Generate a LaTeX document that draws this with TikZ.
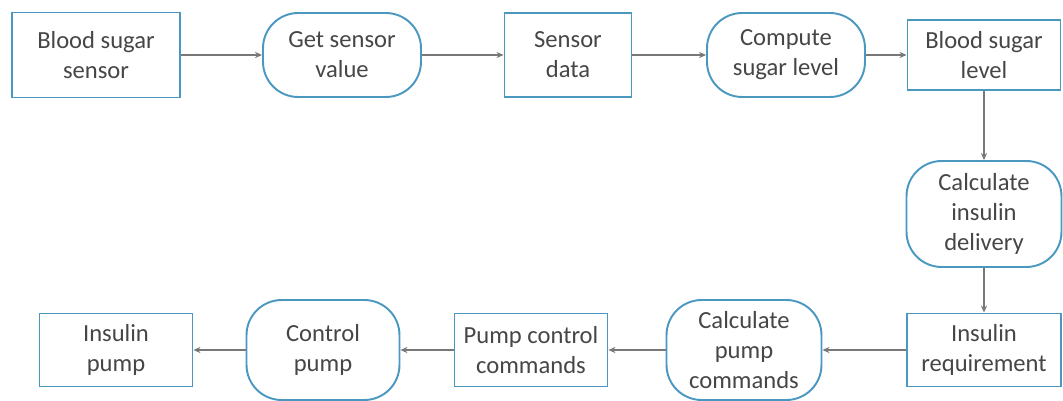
\documentclass[tikz,border=0pt]{standalone}
\usepackage{fontspec}
\setmainfont{Carlito}
\usepackage{xcolor}
\usepackage{tikz}
\usetikzlibrary{
  arrows.meta,
  shapes.geometric
}
\definecolor{BoxBlue}{RGB}{74, 152, 192}
\definecolor{TextGray}{RGB}{70, 70, 70}
\definecolor{LineGray}{RGB}{120, 120, 120}
\tikzset{
    databox/.style={rectangle, draw=BoxBlue, line width=1.1pt, fill=white,
        align=center, text=TextGray, inner sep=2pt,
        font=\fontsize{14}{17}\selectfont},
    procbox/.style={databox, rounded corners=20pt},
    flow/.style={draw=LineGray, line width=0.7pt, -{Stealth[length=4pt,width=3.5pt]}}
}
\begin{document}
\begin{tikzpicture}[x=0.02cm, y=-0.02cm]
    \useasboundingbox (0,0) rectangle (1063,400);
    % top row
    \node[databox, minimum width=3.36cm, minimum height=1.7cm] (bss) at (96,55) {Blood sugar\\sensor};
    \node[procbox, minimum width=3.16cm, minimum height=1.68cm] (gsv) at (342,55) {Get sensor\\value};
    \node[databox, minimum width=2.54cm, minimum height=1.68cm] (sd) at (568,55) {Sensor\\data};
    \node[procbox, minimum width=3.16cm, minimum height=1.68cm] (csl) at (786,55) {Compute\\sugar level};
    \node[databox, minimum width=3.06cm, minimum height=1.4cm] (bsl) at (984,55) {Blood sugar\\level};
    % right column
    \node[procbox, minimum width=3.1cm, minimum height=2.12cm] (cid) at (984,214) {Calculate\\insulin\\delivery};
    % bottom row
    \node[databox, minimum width=3.08cm, minimum height=1.46cm] (ir) at (984,350) {Insulin\\requirement};
    \node[procbox, minimum width=3.1cm, minimum height=2cm] (cpc) at (744,350) {Calculate\\pump\\commands};
    \node[databox, minimum width=3.06cm, minimum height=1.46cm] (pcc) at (531,350) {Pump control\\commands};
    \node[procbox, minimum width=3.06cm, minimum height=2cm] (cp) at (323,350) {Control\\pump};
    \node[databox, minimum width=3.06cm, minimum height=1.46cm] (ip) at (116,350) {Insulin\\pump};

    \draw[flow] (bss) -- (gsv);
    \draw[flow] (gsv) -- (sd);
    \draw[flow] (sd) -- (csl);
    \draw[flow] (csl) -- (bsl);
    \draw[flow] (bsl) -- (cid);
    \draw[flow] (cid) -- (ir);
    \draw[flow] (ir) -- (cpc);
    \draw[flow] (cpc) -- (pcc);
    \draw[flow] (pcc) -- (cp);
    \draw[flow] (cp) -- (ip);
\end{tikzpicture}
\end{document}
